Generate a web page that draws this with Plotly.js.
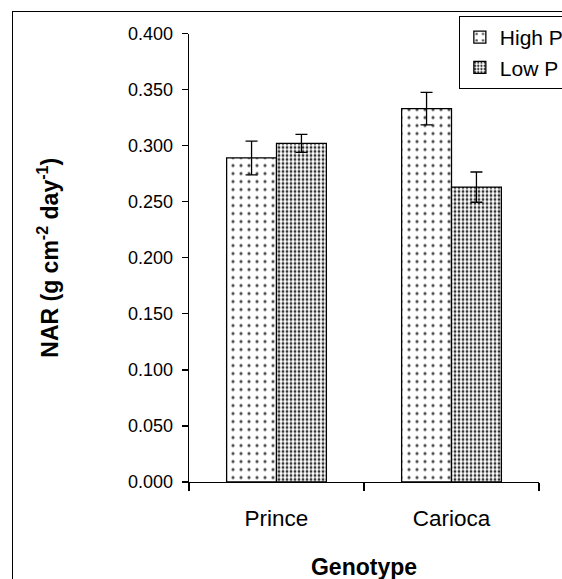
<!DOCTYPE html>
<html>
<head>
<meta charset="utf-8">
<script src="https://cdn.plot.ly/plotly-3.0.1.min.js"></script>
<style>
html,body{margin:0;padding:0;width:562px;height:579px;overflow:hidden;background:#fff;}
#frame{position:absolute;left:12px;top:11px;width:620px;height:620px;border:1.5px solid #000;}
#chart{width:620px;height:620px;}
</style>
</head>
<body>
<div id="frame"><div id="chart"></div></div>
<script>
const genotypes = ["Prince", "Carioca"];
const highP = [0.289, 0.333];
const highPErr = [0.015, 0.0145];
const lowP = [0.302, 0.263];
const lowPErr = [0.008, 0.0135];
const yTicks = [0, 0.05, 0.1, 0.15, 0.2, 0.25, 0.3, 0.35, 0.4];

const font = "Liberation Sans, Arial, sans-serif";

const traces = [
  {
    type: "bar", name: "High P", x: genotypes, y: highP,
    error_y: {type: "data", array: highPErr, visible: true, color: "#000", thickness: 1.3, width: 6},
    marker: {color: "#ffffff", line: {color: "#000", width: 1.3},
      pattern: {shape: ".", fgcolor: "#444", bgcolor: "#ffffff", size: 8, solidity: 0.12}}
  },
  {
    type: "bar", name: "Low P", x: genotypes, y: lowP,
    error_y: {type: "data", array: lowPErr, visible: true, color: "#000", thickness: 1.3, width: 6},
    marker: {color: "#ffffff", line: {color: "#000", width: 1.3},
      pattern: {shape: ".", fgcolor: "#333", bgcolor: "#ffffff", size: 4, solidity: 0.4}}
  }
];

const layout = {
  width: 620, height: 620,
  margin: {l: 176, r: 94, t: 4, b: 150},
  paper_bgcolor: "#fff", plot_bgcolor: "#fff",
  font: {family: font, color: "#000"},
  barmode: "group", bargap: 0.43, bargroupgap: 0,
  showlegend: true,
  legend: {x: 0.771, y: 1, xanchor: "left", yanchor: "top",
    bordercolor: "#000", borderwidth: 1, bgcolor: "#fff",
    font: {family: font, size: 21, color: "#000"}, itemwidth: 30, tracegroupgap: 0},
  xaxis: {
    type: "category", showline: true, linecolor: "#000", linewidth: 1.3,
    ticks: "outside", ticklen: 8, tickcolor: "#000", tickwidth: 1.3, tickson: "boundaries",
    tickfont: {family: font, size: 22.5}, ticklabelstandoff: 16,
    showgrid: false, zeroline: false,
    title: {text: "<b>Genotype</b>", font: {family: font, size: 23}, standoff: 28}
  },
  yaxis: {
    domain: [0, 0.9624],
    range: [0, 0.4], tickvals: yTicks, tickformat: ".3f",
    showline: true, linecolor: "#000", linewidth: 1.3,
    ticks: "outside", ticklen: 6, tickcolor: "#000", tickwidth: 1.3,
    tickfont: {family: font, size: 18}, ticklabelstandoff: 5,
    showgrid: false, zeroline: false,
    title: {text: "<b>NAR (g cm<sup>-2</sup> day<sup>-1</sup>)</b>", font: {family: font, size: 23}, standoff: 63}
  }
};

Plotly.newPlot("chart", traces, layout, {displayModeBar: false, staticPlot: true});
</script>
</body>
</html>
